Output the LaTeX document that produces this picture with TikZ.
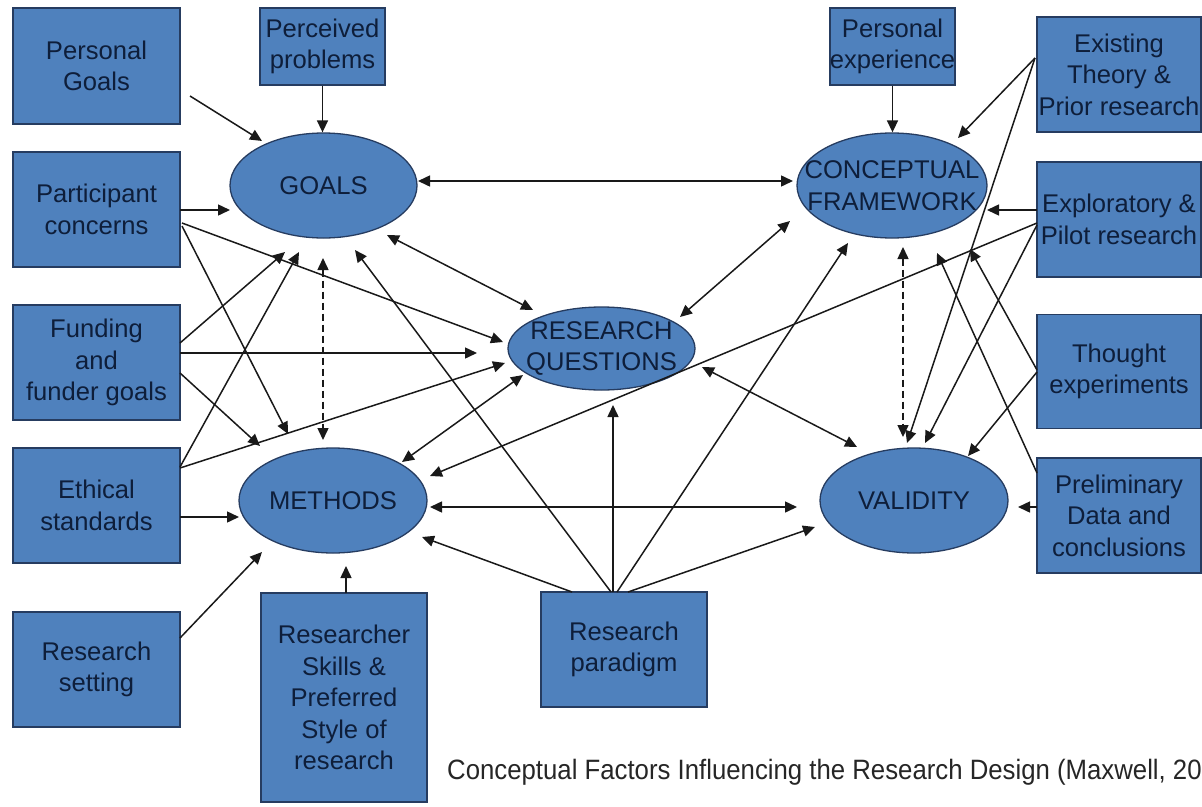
\documentclass[tikz,border=0pt]{standalone}
\usepackage{fontspec}
\setmainfont{Liberation Sans}
\newfontfamily\capfont[FakeStretch=0.92]{Liberation Sans}
\usetikzlibrary{arrows.meta,shapes.geometric}
\definecolor{boxfill}{RGB}{79,129,189}
\definecolor{boxline}{RGB}{38,60,96}
\definecolor{boxtext}{RGB}{14,30,58}
\definecolor{wire}{RGB}{25,25,25}

\begin{document}
\begin{tikzpicture}[x=1pt,y=-1pt,
  factor/.style={draw=boxline,line width=1.3pt,fill=boxfill,text=boxtext,align=center,
    inner sep=0pt,font=\fontsize{25.6}{31.5}\selectfont},
  core/.style={factor,ellipse,inner xsep=-30pt,inner ysep=-15pt},
  arr/.style={draw=wire,line width=1.5pt,-{Triangle[length=12pt,width=11pt]}},
  darr/.style={arr,{Triangle[length=12pt,width=11pt]}-{Triangle[length=12pt,width=11pt]}},
  dashedarr/.style={darr,dash pattern=on 7pt off 4pt}
]
\useasboundingbox (0,0) rectangle (1202,806);

% influencing factors (left column)
\node[factor,minimum width=167pt,minimum height=116pt] (pg) at (96.5,66) {Personal\\Goals};
\node[factor,minimum width=167pt,minimum height=115pt] (pc) at (96.5,209.5) {Participant\\concerns};
\node[factor,minimum width=167pt,minimum height=115pt] (fu) at (96.5,362.5) {Funding\\and\\funder goals};
\node[factor,minimum width=167pt,minimum height=115pt] (es) at (96.5,505.5) {Ethical\\standards};
\node[factor,minimum width=167pt,minimum height=115pt] (rs) at (96.5,669.5) {Research\\setting};

% top and bottom factors
\node[factor,minimum width=125pt,minimum height=77pt] (pp) at (322.5,46.5) {Perceived\\problems};
\node[factor,minimum width=125pt,minimum height=77pt] (pe) at (892.5,46.5) {Personal\\experience};
\node[factor,minimum width=166pt,minimum height=209pt] (rsk) at (344,697.5) {Researcher\\Skills \&\\Preferred\\Style of\\research};
\node[factor,minimum width=166pt,minimum height=115pt] (rp) at (624,649.5) {Research\\paradigm};

% influencing factors (right column)
\node[factor,minimum width=164pt,minimum height=115pt] (et) at (1119,74.5) {Existing\\Theory \&\\Prior research};
\node[factor,minimum width=164pt,minimum height=115pt] (ep) at (1119,219.5) {Exploratory \&\\Pilot research};
\node[factor,minimum width=164pt,minimum height=114pt] (te) at (1119,371.5) {Thought\\experiments};
\node[factor,minimum width=164pt,minimum height=115pt] (pd) at (1119,515.5) {Preliminary\\Data and\\conclusions};

% design components
\node[core,minimum width=187pt,minimum height=105pt] (goals) at (323.5,185.5) {GOALS};
\node[core,minimum width=190pt,minimum height=105pt] (cf) at (892,185.5) {CONCEPTUAL\\FRAMEWORK};
\node[core,minimum width=187pt,minimum height=83pt] (rq) at (601.5,348.5) {RESEARCH\\QUESTIONS};
\node[core,minimum width=188pt,minimum height=105pt] (meth) at (333,500.5) {METHODS};
\node[core,minimum width=188pt,minimum height=105pt] (val) at (914,500.5) {VALIDITY};

% links between the components
\draw[darr] ([shift={(94.5,-4.5)}]goals.center) -- ([shift={(-99,-4.5)}]cf.center);
\draw[darr] ([shift={(63.5,49.5)}]goals.center) -- ([shift={(-68.5,-38.5)}]rq.center);
\draw[darr] ([shift={(78.5,-31.5)}]rq.center) -- ([shift={(-102,35.5)}]cf.center);
\draw[darr] ([shift={(-78.5,26.5)}]rq.center) -- ([shift={(69,-38.5)}]meth.center);
\draw[darr] ([shift={(100.5,18.5)}]rq.center) -- ([shift={(-57,-53.5)}]val.center);
\draw[darr] ([shift={(97,6.5)}]meth.center) -- ([shift={(-117,6.5)}]val.center);
\draw[dashedarr] ([shift={(-0.5,72.5)}]goals.center) -- ([shift={(-10,-60.5)}]meth.center);
\draw[dashedarr] ([shift={(11,61.5)}]cf.center) -- ([shift={(-11,-63.5)}]val.center);

% left-hand factors
\draw[arr] ([shift={(93.5,30)}]pg.center) -- ([shift={(-61.5,-44.5)}]goals.center);
\draw[arr] (pp.south) -- (pp.south |- goals.north);
\draw[arr] ([shift={(83.5,0.5)}]pc.center) -- ([shift={(-93.5,24.5)}]goals.center);
\draw[arr] ([shift={(85.5,13.5)}]pc.center) -- ([shift={(-98.5,-6.5)}]rq.center);
\draw[arr] ([shift={(85.5,16.5)}]pc.center) -- ([shift={(-45,-66.5)}]meth.center);
\draw[arr] ([shift={(83.5,-19.5)}]fu.center) -- ([shift={(-38.5,66.5)}]goals.center);
\draw[arr] ([shift={(83.5,-9.5)}]fu.center) -- ([shift={(-124.5,4.5)}]rq.center);
\draw[arr] ([shift={(83.5,10.5)}]fu.center) -- ([shift={(-73,-54.5)}]meth.center);
\draw[arr] ([shift={(83.5,-38.5)}]es.center) -- ([shift={(-24.5,66.5)}]goals.center);
\draw[arr] ([shift={(83.5,-37.5)}]es.center) -- ([shift={(-96.5,14.5)}]rq.center);
\draw[arr] ([shift={(83.5,11.5)}]es.center) -- ([shift={(-94,16.5)}]meth.center);
\draw[arr] ([shift={(83.5,-31.5)}]rs.center) -- ([shift={(-71,51.5)}]meth.center);

% bottom factors
\draw[arr] ([shift={(2,-104.5)}]rsk.center) -- ([shift={(13,65.5)}]meth.center);
\draw[arr] ([shift={(-52,-57.5)}]rp.center) -- ([shift={(89,36.5)}]meth.center);
\draw[arr] ([shift={(-13,-57.5)}]rp.center) -- ([shift={(31.5,64.5)}]goals.center);
\draw[arr] ([shift={(-11,-57.5)}]rp.center) -- ([shift={(11.5,56.5)}]rq.center);
\draw[arr] ([shift={(-7,-57.5)}]rp.center) -- ([shift={(-44,57.5)}]cf.center);
\draw[arr] ([shift={(4,-57.5)}]rp.center) -- ([shift={(-99,26.5)}]val.center);

% right-hand factors
\draw[arr] (pe.south) -- (pe.south |- cf.north);
\draw[arr] ([shift={(-84,-16.5)}]et.center) -- ([shift={(66,-47.5)}]cf.center);
\draw[arr] ([shift={(-84,-16.5)}]et.center) -- ([shift={(-7,-57.5)}]val.center);
\draw[arr] ([shift={(-82,-9.5)}]ep.center) -- ([shift={(95,24.5)}]cf.center);
\draw[arr] ([shift={(-82,3.5)}]ep.center) -- ([shift={(97,-24.5)}]meth.center);
\draw[arr] ([shift={(-82,5.5)}]ep.center) -- ([shift={(11,-57.5)}]val.center);
\draw[arr] ([shift={(-82,-1.5)}]te.center) -- ([shift={(78,63.5)}]cf.center);
\draw[arr] ([shift={(-82,0.5)}]te.center) -- ([shift={(54,-44.5)}]val.center);
\draw[arr] ([shift={(-82,-42.5)}]pd.center) -- ([shift={(45,67.5)}]cf.center);
\draw[arr] ([shift={(-82,-8.5)}]pd.center) -- ([shift={(104,6.5)}]val.center);

% caption
\node[anchor=base west,inner sep=0pt,text=black!85,font=\capfont\fontsize{28}{30}\selectfont]
  (caption) at (447,779) {Conceptual Factors Influencing the Research Design (Maxwell, 20};
\end{tikzpicture}
\end{document}
